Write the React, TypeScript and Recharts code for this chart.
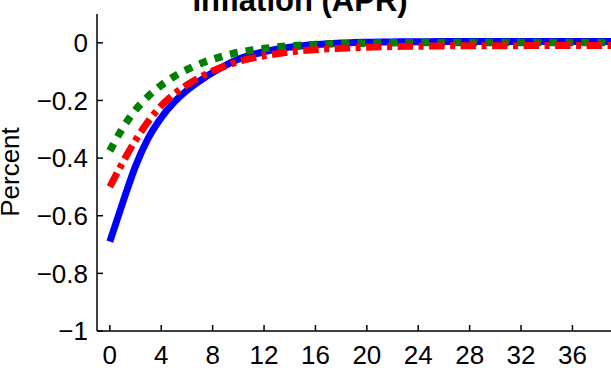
import { LineChart, Line, XAxis, YAxis } from 'recharts';

// horizon (quarters)
const periods = [
  0, 1, 2, 3, 4, 5, 6, 7, 8, 9, 10, 11, 12, 13, 14, 15, 16, 17, 18, 19,
  20, 21, 22, 23, 24, 25, 26, 27, 28, 29, 30, 31, 32, 33, 34, 35, 36, 37, 38, 39,
];

// solid blue response
const blueSeries = [
  -0.69, -0.555, -0.428, -0.33, -0.26, -0.206, -0.165, -0.132, -0.103, -0.078,
  -0.057, -0.042, -0.031, -0.022, -0.015, -0.01, -0.006, -0.003, -0.001, 0.001,
  0.002, 0.003, 0.003, 0.004, 0.004, 0.004, 0.005, 0.005, 0.005, 0.005,
  0.005, 0.005, 0.005, 0.005, 0.005, 0.005, 0.005, 0.005, 0.005, 0.005,
];

// dotted green response
const greenSeries = [
  -0.375, -0.296, -0.233, -0.185, -0.147, -0.117, -0.093, -0.073, -0.057, -0.044,
  -0.033, -0.026, -0.02, -0.015, -0.011, -0.008, -0.006, -0.004, -0.003, -0.002,
  -0.001, 0, 0, 0, 0.001, 0.001, 0.001, 0.001, 0.001, 0.001,
  0.001, 0.001, 0.001, 0.001, 0.001, 0.001, 0.001, 0.001, 0.001, 0.001,
];

// dash-dot red response
const redSeries = [
  -0.5, -0.415, -0.338, -0.272, -0.218, -0.178, -0.146, -0.12, -0.098, -0.08,
  -0.065, -0.054, -0.045, -0.038, -0.032, -0.027, -0.024, -0.021, -0.019, -0.017,
  -0.015, -0.014, -0.013, -0.012, -0.012, -0.011, -0.011, -0.01, -0.01, -0.01,
  -0.01, -0.01, -0.01, -0.009, -0.009, -0.009, -0.009, -0.009, -0.009, -0.009,
];

const xTicks = [0, 4, 8, 12, 16, 20, 24, 28, 32, 36];
const yTicks = [-1, -0.8, -0.6, -0.4, -0.2, 0];

const rows = periods.map((t, i) => ({
  t,
  blue: blueSeries[i],
  green: greenSeries[i],
  red: redSeries[i],
}));

const FONT = '"Liberation Sans", Arial, Helvetica, sans-serif';
const axisStroke = { stroke: '#000', strokeWidth: 1.5 };

const fmtY = (v: number) => (v === 0 ? '0' : '\u2212' + Math.abs(v));

export default function App() {
  return (
    <div style={{ position: 'absolute', left: 0, top: 0, width: 611, height: 368, fontFamily: FONT, background: '#fff' }}>
      <LineChart width={611} height={368} data={rows} margin={{ top: 14, right: 0, bottom: 0, left: 0 }}>
        <XAxis
          dataKey="t"
          type="number"
          domain={[-1, 39]}
          ticks={xTicks}
          interval={0}
          height={37}
          tickSize={-6}
          tickMargin={21}
          allowDataOverflow
          axisLine={axisStroke}
          tickLine={axisStroke}
          tick={{ fill: '#000', fontSize: 26, fontFamily: FONT }}
        />
        <XAxis
          xAxisId="top"
          orientation="top"
          dataKey="t"
          type="number"
          domain={[-1, 39]}
          ticks={xTicks}
          interval={0}
          height={0}
          tickSize={-6}
          allowDataOverflow
          axisLine={axisStroke}
          tickLine={axisStroke}
          tick={false}
        />
        <YAxis
          type="number"
          domain={[-1, 0.1]}
          ticks={yTicks}
          interval={0}
          width={97}
          tickSize={-6}
          tickMargin={15}
          allowDataOverflow
          tickFormatter={fmtY}
          axisLine={axisStroke}
          tickLine={axisStroke}
          tick={{ fill: '#000', fontSize: 26, fontFamily: FONT }}
        />
        <YAxis
          yAxisId="right"
          orientation="right"
          type="number"
          domain={[-1, 0.1]}
          ticks={yTicks}
          interval={0}
          width={0}
          tickSize={-6}
          allowDataOverflow
          axisLine={axisStroke}
          tickLine={axisStroke}
          tick={false}
        />
        <Line
          dataKey="blue"
          type="monotone"
          stroke="#0000ff"
          strokeWidth={7}
          dot={false}
          activeDot={false}
          isAnimationActive={false}
        />
        <Line
          dataKey="green"
          type="monotone"
          stroke="#008000"
          strokeWidth={7.5}
          strokeDasharray="8 8"
          dot={false}
          activeDot={false}
          isAnimationActive={false}
        />
        <Line
          dataKey="red"
          type="monotone"
          stroke="#ff0000"
          strokeWidth={7}
          strokeDasharray="15.5 5.5 5 5.5"
          dot={false}
          activeDot={false}
          isAnimationActive={false}
        />
      </LineChart>
      <svg width={611} height={368} style={{ position: 'absolute', left: 0, top: 0, pointerEvents: 'none' }}>
        <text x={300} y={11} textAnchor="middle" fontSize={31} fontWeight="bold" fontFamily={FONT} fill="#000">
          Inflation (APR)
        </text>
        <text
          x={0}
          y={0}
          transform="translate(18.5,172) rotate(-90)"
          textAnchor="middle"
          fontSize={26}
          fontFamily={FONT}
          fill="#000"
        >
          Percent
        </text>
      </svg>
    </div>
  );
}
